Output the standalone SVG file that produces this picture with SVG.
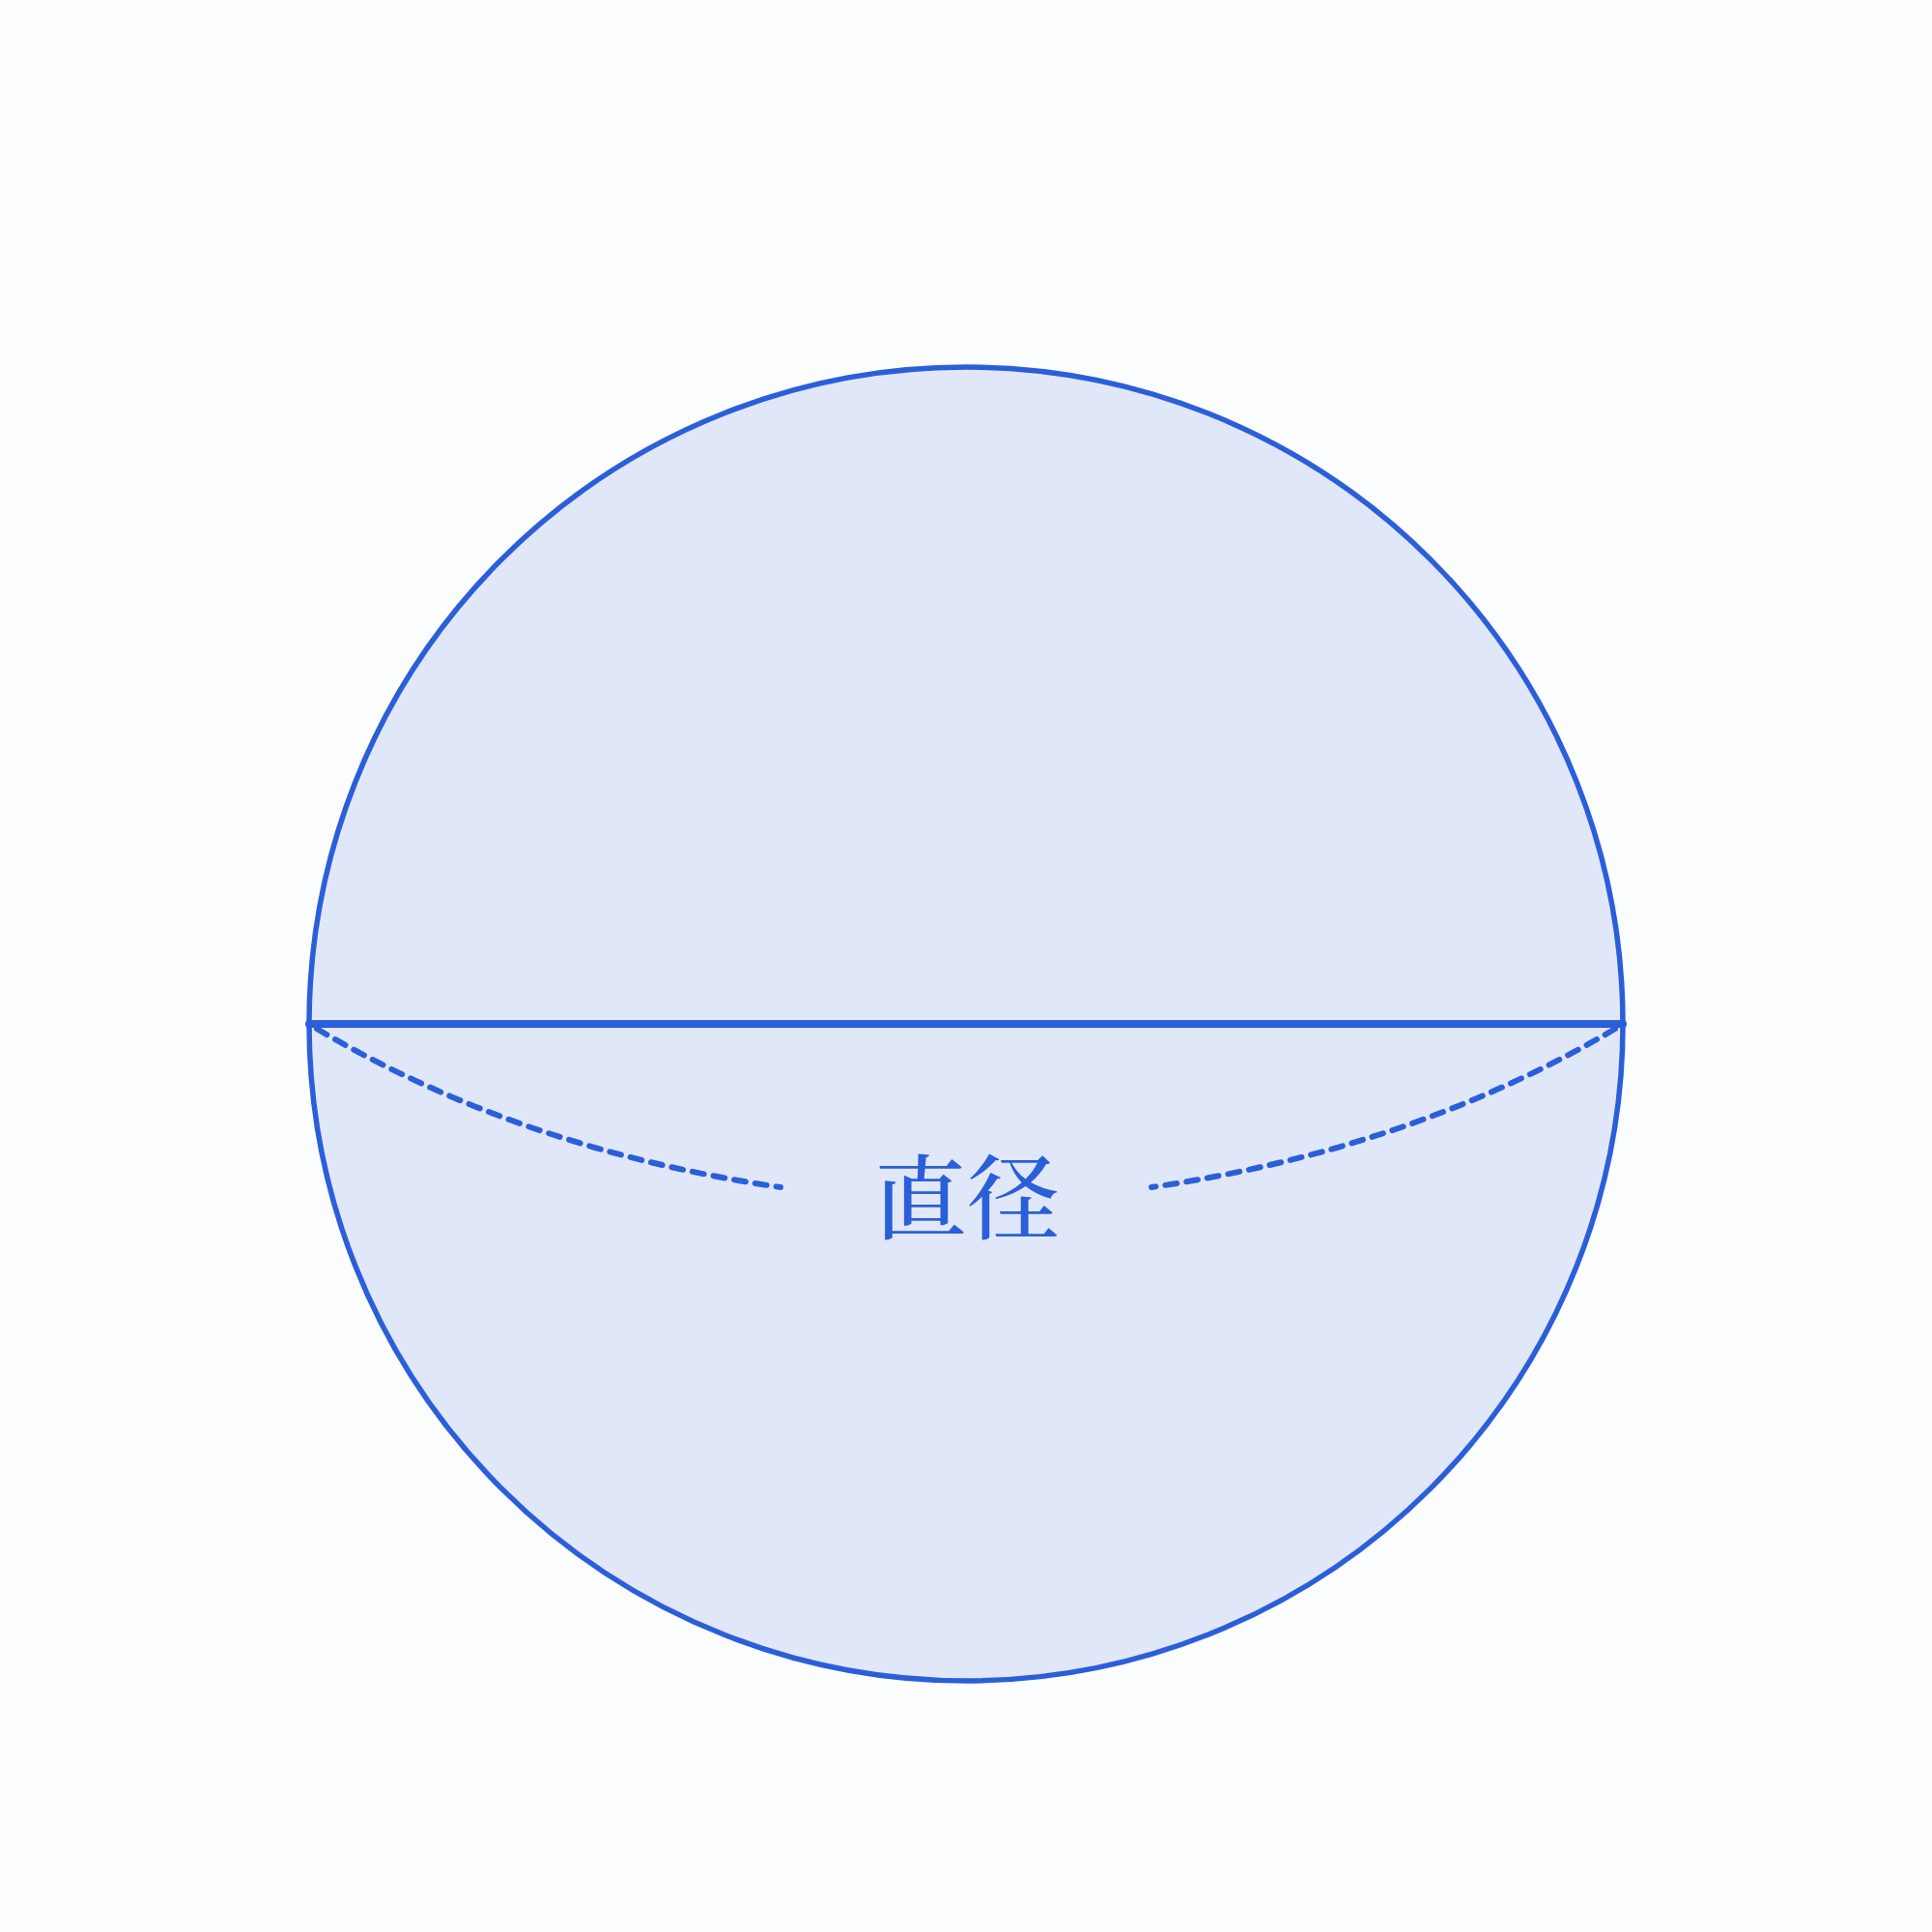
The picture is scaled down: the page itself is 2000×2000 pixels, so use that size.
<svg xmlns="http://www.w3.org/2000/svg" width="2000" height="2000" viewBox="0 0 2000 2000">
<style>
.outline{fill:#e0e7f9;stroke:#2b5fd9;stroke-width:5.5}
.diam{stroke:#2b5fd9;stroke-width:8;stroke-linecap:round;fill:none}
.dash{stroke:#2b5fd9;stroke-width:6;stroke-linecap:round;stroke-dasharray:12 10;fill:none}
.lbl{font-family:"Noto Serif CJK JP","Noto Serif CJK SC","Noto Sans CJK JP",serif;font-size:96px;font-weight:500;fill:#2b5fd9;text-anchor:middle}
</style>
<rect x="0" y="0" width="2000" height="2000" fill="#fcfdff"/>
<g id="circle">
<circle class="outline" cx="1000" cy="1060" r="680"/>
</g>
<g id="connectors">
<line class="diam" x1="320" y1="1060" x2="1680" y2="1060"/>
<path class="dash" d="M328,1065 Q540,1190 808,1229"/>
<path class="dash" d="M1672,1065 Q1460,1190 1192,1229"/>
</g>
<g id="label">
<text class="lbl" x="1001" y="1275">直径</text>
</g>
</svg>
